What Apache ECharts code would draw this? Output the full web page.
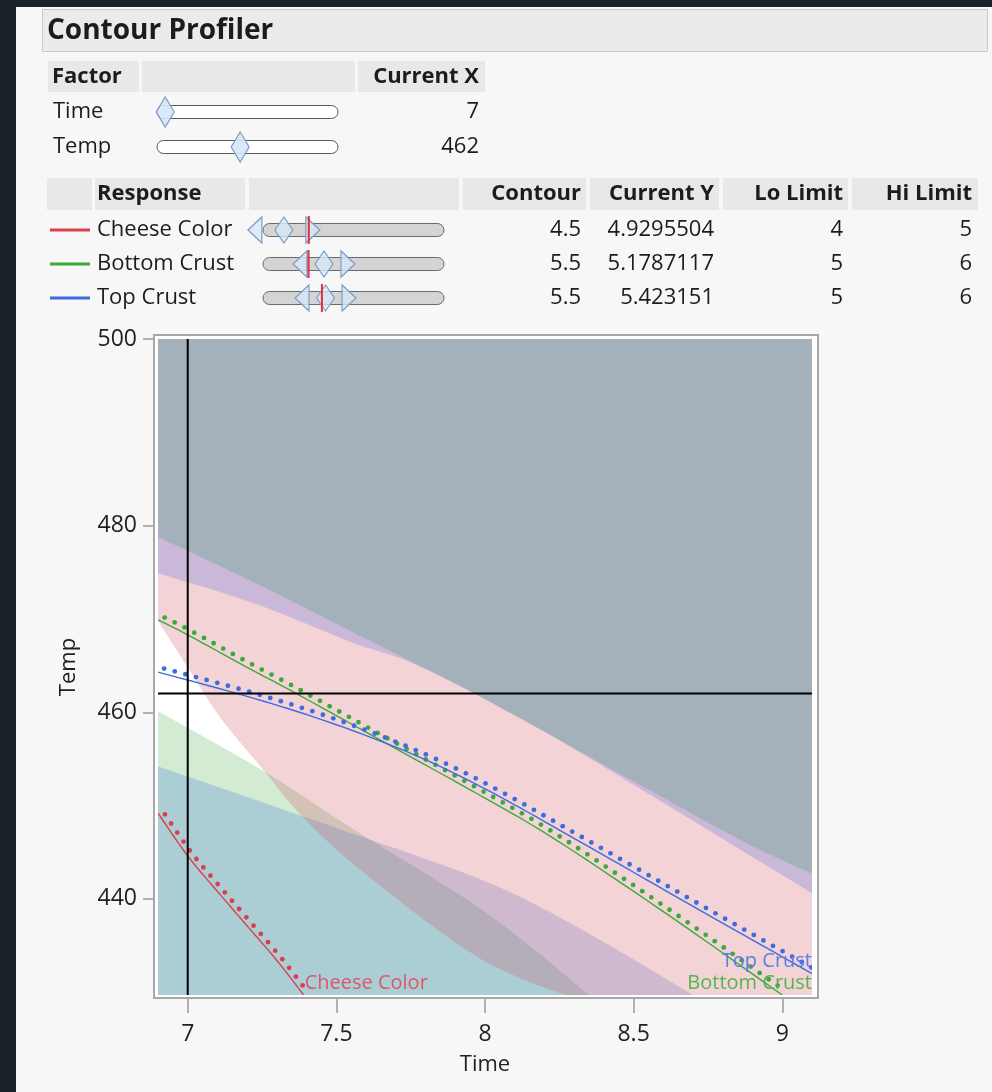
<!DOCTYPE html>
<html>
<head>
<meta charset="utf-8">
<script src="https://cdn.jsdelivr.net/npm/echarts@6/dist/echarts.min.js"></script>
<style>
  html, body { margin: 0; padding: 0; background: #1a2329; }
  #chart { width: 992px; height: 1092px; }
</style>
</head>
<body>
<div id="chart"></div>
<script>
// ---- factors ----
const factorNames = ['Time', 'Temp']
const factorCurrent = [7, 462]
const timeRange = [6.9, 9.1]
const tempRange = [429.7, 500]
const timeTicks = [7, 7.5, 8, 8.5, 9]
const tempTicks = [440, 460, 480, 500]

// ---- responses ----
const responseNames = ['Cheese Color', 'Bottom Crust', 'Top Crust']
const responseColors = ['#d9404f', '#3aaa3a', '#3d6be0']
const labelColors = ['#e0566a', '#52b552', '#5a7ee8']
const contourValues = [4.5, 5.5, 5.5]
const currentY = [4.9295504, 5.1787117, 5.423151]
const loLimits = [4, 5, 5]
const hiLimits = [5, 6, 6]
const sliderRanges = [[4.14, 7.26], [4.23, 8.0], [4.17, 8.02]]

// ---- contour lines [Time, Temp] ----
const cheeseLine = [[6.9, 449.2], [7.0, 444.6], [7.1, 440.8], [7.2, 437.1], [7.3, 433.4], [7.39, 429.7]]
const bottomLine = [[6.9, 469.9], [7.0, 468.3], [7.2, 464.8], [7.36, 462.1], [7.7, 456.1], [8.0, 450.8], [8.24, 446.3], [8.62, 438.2], [9.0, 429.7]]
const topLine = [[6.9, 464.3], [7.2, 461.7], [7.47, 459.0], [7.75, 455.6], [8.0, 451.8], [8.31, 446.3], [8.7, 439.2], [9.1, 432.0]]

// ---- shaded limit boundaries [Time, Temp] ----
const cheeseHiEdge = [[6.9, 469.8], [7.0, 464.8], [7.11, 459.4], [7.26, 453.6], [7.36, 449.7], [7.5, 445.3], [7.68, 440.6], [7.84, 436.7], [8.0, 433.3], [8.15, 431.1], [8.27, 429.7]]
const bottomLoEdge = [[6.9, 460.1], [7.26, 453.6], [7.56, 447.4], [8.0, 438.6], [8.35, 429.7]]
const topLoEdge = [[6.9, 454.2], [7.5, 447.6], [8.0, 441.9], [8.32, 436.8], [8.7, 429.7]]
const purpleEdge = [[6.9, 474.9], [7.23, 471.6], [7.56, 467.4], [7.73, 465.6], [7.97, 462.0], [8.14, 459.1], [8.6, 450.3], [9.1, 440.6]]
const grayEdge = [[6.9, 478.8], [7.23, 473.8], [7.56, 468.5], [7.97, 461.9], [8.5, 452.6], [8.86, 446.3], [9.1, 442.7]]

const FONT = '"Open Sans", "Noto Sans", sans-serif'
const INK = '#1c1c1c'

let chartDom = document.getElementById('chart')
let myChart = echarts.init(chartDom)

// ---------- header / tables as graphic elements ----------
let els = []
function rect (x, y, w, h, fill, stroke, r) {
  els.push({ type: 'rect', shape: { x, y, width: w, height: h, r: r || 0 }, style: { fill, stroke: stroke || null, lineWidth: stroke ? 1 : 0 }, z: 1 })
}
function txt (x, y, str, size, align, bold, color) {
  els.push({
    type: 'text', z: 3,
    style: {
      text: String(str), x, y, fill: color || INK,
      font: (bold ? 'bold ' : '') + size + 'px ' + FONT,
      align: align || 'left', verticalAlign: 'middle',
      textAlign: align || 'left', textVerticalAlign: 'middle'
    }
  })
}
function poly (pts, fill, stroke, z) {
  els.push({ type: 'polygon', shape: { points: pts }, style: { fill, stroke, lineWidth: 1.2 }, z: z || 4 })
}

// dark window edges
rect(0, 0, 16, 1092, '#1a2329')
rect(0, 0, 992, 7, '#1a2329')
rect(42.5, 9.5, 945, 42, '#ebebeb', '#c8c8c8')
txt(47, 31, 'Contour Profiler', 28, 'left', true)

// factor table
rect(48, 61, 91, 31, '#e8e8e8')
rect(142, 61, 213, 31, '#e8e8e8')
rect(358, 61, 127, 31, '#e8e8e8')
txt(52, 77, 'Factor', 22, 'left', true)
txt(479, 77, 'Current X', 22, 'right', true)
const factorRanges = [timeRange, tempRange]
factorNames.forEach((name, i) => {
  let cy = 112 + i * 35
  txt(53, cy, name, 22)
  rect(157, cy - 6.5, 181, 13, '#ffffff', '#5a5a5a', 6.5)
  let [a, b] = factorRanges[i]
  let cx = 157 + (factorCurrent[i] - a) / (b - a) * 181
  poly([[cx, cy - 15], [cx + 9, cy], [cx, cy + 15], [cx - 9, cy]], 'rgba(214,230,248,0.9)', '#7d9cc4')
  txt(479, cy, factorCurrent[i], 22, 'right')
})

// response table
const respCells = [[47, 92], [95, 245], [249, 459], [463, 586], [590, 719], [723, 848], [852, 978]]
respCells.forEach(([a, b]) => rect(a, 178, b - a, 32, '#e8e8e8'))
txt(97, 194, 'Response', 22, 'left', true)
txt(581, 194, 'Contour', 22, 'right', true)
txt(714, 194, 'Current Y', 22, 'right', true)
txt(843, 194, 'Lo Limit', 22, 'right', true)
txt(972, 194, 'Hi Limit', 22, 'right', true)
responseNames.forEach((name, i) => {
  let cy = 230 + i * 34
  els.push({ type: 'line', shape: { x1: 50, y1: cy, x2: 90, y2: cy }, style: { stroke: responseColors[i], lineWidth: 3 }, z: 2 })
  txt(97, cy, name, 22)
  rect(263, cy - 6.5, 181, 13, '#d4d4d4', '#6a6a6a', 6.5)
  let [a, b] = sliderRanges[i]
  let sx = v => 263 + (v - a) / (b - a) * 181
  let lo = sx(loLimits[i]), hi = sx(hiLimits[i]), ct = sx(contourValues[i]), cu = sx(currentY[i])
  poly([[lo - 7, cy], [lo + 7, cy - 13], [lo + 7, cy + 13]], 'rgba(214,230,248,0.8)', '#7d9cc4')
  poly([[hi + 7, cy], [hi - 7, cy - 13], [hi - 7, cy + 13]], 'rgba(214,230,248,0.8)', '#7d9cc4')
  poly([[ct, cy - 13], [ct + 9, cy], [ct, cy + 13], [ct - 9, cy]], 'rgba(214,230,248,0.8)', '#7d9cc4')
  els.push({ type: 'line', shape: { x1: cu, y1: cy - 14, x2: cu, y2: cy + 14 }, style: { stroke: '#e0303f', lineWidth: 2 }, z: 6 })
  txt(581, cy, contourValues[i], 22, 'right')
  txt(714, cy, currentY[i], 22, 'right')
  txt(843, cy, loLimits[i], 22, 'right')
  txt(972, cy, hiLimits[i], 22, 'right')
})

// plot frame
els.push({ type: 'rect', shape: { x: 154, y: 335, width: 664, height: 663 }, style: { fill: '#ffffff' }, z: 0 })
els.push({ type: 'rect', shape: { x: 154, y: 335, width: 664, height: 663 }, style: { fill: null, stroke: '#a8a8a8', lineWidth: 2 }, z: 100 })

// smooth a pixel polyline (Catmull-Rom), like line smoothing
function smoothPx (pts) {
  if (pts.length < 3) return pts
  let out = [pts[0]]
  for (let i = 0; i < pts.length - 1; i++) {
    let p0 = pts[Math.max(i - 1, 0)], p1 = pts[i], p2 = pts[i + 1], p3 = pts[Math.min(i + 2, pts.length - 1)]
    for (let s = 1; s <= 10; s++) {
      let t = s / 10, t2 = t * t, t3 = t2 * t
      out.push([0, 1].map(k => 0.5 * (2 * p1[k] + (-p0[k] + p2[k]) * t + (2 * p0[k] - 5 * p1[k] + 4 * p2[k] - p3[k]) * t2 + (-p0[k] + 3 * p1[k] - 3 * p2[k] + p3[k]) * t3)))
    }
  }
  return out
}

// ---------- plot series ----------
function shade (edge, side, fill) {
  return {
    type: 'custom', clip: true, silent: true, z: 3, data: [0],
    renderItem (params, api) {
      let cs = params.coordSys
      let L = cs.x, R = cs.x + cs.width, T = cs.y, B = cs.y + cs.height
      let pts = smoothPx(edge.map(p => api.coord(p)))
      let last = pts[pts.length - 1]
      if (side === 'above') pts.push([last[0], B], [R, B], [R, T], [L, T])
      else pts.push([last[0], B], [L, B])
      return { type: 'polygon', shape: { points: pts }, style: { fill } }
    }
  }
}

function contour (line, idx, labelMode) {
  const color = responseColors[idx]
  return {
    type: 'custom', clip: true, silent: true, z: 6, data: [0],
    renderItem (params, api) {
      let cs = params.coordSys
      let pts = smoothPx(line.map(p => api.coord(p)))
      let kids = [{ type: 'polyline', shape: { points: pts }, style: { stroke: color, lineWidth: 1.4, fill: null } }]
      // direction dots
      let carry = 5
      for (let i = 1; i < pts.length; i++) {
        let [x0, y0] = pts[i - 1], [x1, y1] = pts[i]
        let dx = x1 - x0, dy = y1 - y0, len = Math.hypot(dx, dy)
        if (!len) continue
        let nx = dy / len, ny = -dx / len
        let d = carry
        while (d <= len) {
          let t = d / len
          kids.push({ type: 'circle', shape: { cx: x0 + dx * t + nx * 5, cy: y0 + dy * t + ny * 5, r: 2.4 }, style: { fill: color } })
          d += 11
        }
        carry = d - len
      }
      let end = pts[pts.length - 1]
      let lx = labelMode === 'left' ? end[0] + 1 : cs.x + cs.width
      kids.push({
        type: 'text',
        style: {
          text: responseNames[idx], x: lx, y: end[1] - 12, fill: labelColors[idx],
          font: '20px ' + FONT,
          align: labelMode === 'left' ? 'left' : 'right', verticalAlign: 'middle',
          textAlign: labelMode === 'left' ? 'left' : 'right', textVerticalAlign: 'middle'
        }
      })
      return { type: 'group', children: kids }
    }
  }
}

let crosshair = {
  type: 'custom', clip: true, silent: true, z: 8, data: [0],
  renderItem (params, api) {
    let cs = params.coordSys
    let p = api.coord(factorCurrent)
    return {
      type: 'group',
      children: [
        { type: 'line', shape: { x1: p[0], y1: cs.y, x2: p[0], y2: cs.y + cs.height }, style: { stroke: '#000', lineWidth: 2 } },
        { type: 'line', shape: { x1: cs.x, y1: p[1], x2: cs.x + cs.width, y2: p[1] }, style: { stroke: '#000', lineWidth: 2 } }
      ]
    }
  }
}

let axisText = { fontSize: 23, color: '#222', fontFamily: FONT }

let option = {
  animation: false,
  backgroundColor: '#f7f7f7',
  graphic: { elements: els },
  grid: { left: 158, top: 339, width: 654, height: 656, containLabel: false, outerBoundsMode: 'none', show: false },
  xAxis: {
    type: 'value', min: timeRange[0], max: timeRange[1], offset: 3, z: 50,
    axisLine: { show: false },
    axisTick: { show: true, length: 15, lineStyle: { color: '#9a9a9a', width: 1.5 }, customValues: timeTicks },
    axisLabel: Object.assign({ margin: 25, customValues: timeTicks }, axisText),
    splitLine: { show: false },
    name: 'Time', nameLocation: 'middle', nameGap: 56,
    nameTextStyle: { fontSize: 22, color: '#222', fontFamily: FONT }
  },
  yAxis: {
    type: 'value', min: tempRange[0], max: tempRange[1], offset: 4, z: 50,
    axisLine: { show: false },
    axisTick: { show: true, length: 11, lineStyle: { color: '#9a9a9a', width: 1.5 }, customValues: tempTicks },
    axisLabel: Object.assign({ margin: 17, customValues: tempTicks }, axisText),
    splitLine: { show: false },
    name: 'Temp', nameLocation: 'middle', nameGap: 74, nameRotate: 90,
    nameTextStyle: { fontSize: 22, color: '#222', fontFamily: FONT }
  },
  series: [
    shade(bottomLoEdge, 'below', 'rgba(79,171,79,0.25)'),
    shade(topLoEdge, 'below', 'rgba(51,118,215,0.25)'),
    shade(cheeseHiEdge, 'above', 'rgba(211,79,95,0.25)'),
    shade(purpleEdge, 'above', '#c9b8d8'),
    shade(grayEdge, 'above', '#a5b1ba'),
    contour(cheeseLine, 0, 'left'),
    contour(bottomLine, 1, 'right'),
    contour(topLine, 2, 'right'),
    crosshair
  ]
}
myChart.setOption(option)
</script>
</body>
</html>
